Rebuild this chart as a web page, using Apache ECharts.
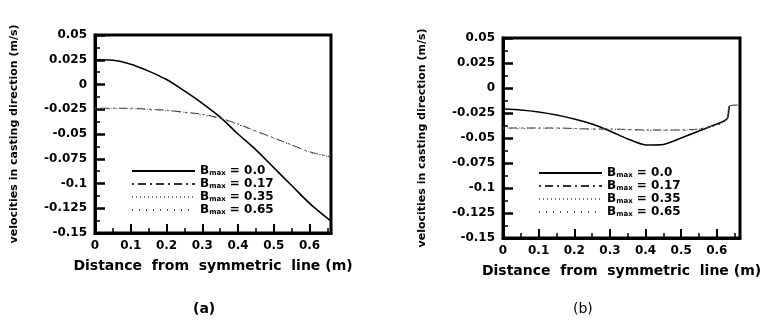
<!DOCTYPE html>
<html>
<head>
<meta charset="utf-8">
<script src="https://cdn.jsdelivr.net/npm/echarts@6/dist/echarts.min.js"></script>
<style>
  html, body { margin: 0; padding: 0; background: #fff; }
  #chart { width: 773px; height: 322px; }
</style>
</head>
<body>
<div id="chart"></div>
<script>
// (a) distance positions and velocities
const xsA = [0, 0.05, 0.1, 0.15, 0.2, 0.25, 0.3, 0.35, 0.4, 0.45, 0.5, 0.55, 0.6, 0.66];
const b00A = [0.025, 0.0245, 0.0205, 0.0135, 0.005, -0.0065, -0.019, -0.033, -0.05, -0.066, -0.084, -0.102, -0.12, -0.138];
const b17A = [-0.024, -0.024, -0.024, -0.025, -0.026, -0.028, -0.03, -0.034, -0.04, -0.047, -0.054, -0.061, -0.068, -0.073];
const b35A = [-0.024, -0.024, -0.0245, -0.025, -0.026, -0.028, -0.0305, -0.034, -0.04, -0.047, -0.054, -0.061, -0.068, -0.073];
const b65A = [-0.0245, -0.0245, -0.0245, -0.0255, -0.0265, -0.0285, -0.031, -0.0345, -0.0405, -0.0475, -0.0545, -0.0615, -0.0685, -0.0735];

// (b)
const xsB = [0, 0.05, 0.1, 0.15, 0.2, 0.25, 0.3, 0.35, 0.4, 0.45, 0.5, 0.55, 0.6, 0.62, 0.63, 0.635, 0.665];
const b00B = [-0.021, -0.022, -0.024, -0.027, -0.031, -0.036, -0.043, -0.051, -0.057, -0.0565, -0.05, -0.043, -0.036, -0.033, -0.03, -0.018, null];
const b17B = [-0.04, -0.04, -0.04, -0.04, -0.0405, -0.041, -0.041, -0.0415, -0.042, -0.042, -0.042, -0.041, -0.037, -0.034, -0.03, -0.018, -0.017];
const b35B = [-0.04, -0.04, -0.04, -0.04, -0.0405, -0.041, -0.041, -0.0415, -0.042, -0.042, -0.042, -0.041, -0.037, -0.034, -0.03, -0.018, -0.017];
const b65B = [-0.0405, -0.0405, -0.0405, -0.0405, -0.041, -0.0415, -0.0415, -0.042, -0.0425, -0.0425, -0.0425, -0.0415, -0.0375, -0.0345, -0.0305, -0.0185, -0.017];

const legendText = { a00: "0.0", a17: "0.17", a35: "0.35", a65: "0.65", b00: "0.0", b17: "0.17", b35: "0.35", b65: "0.65" };

const FONT = "DejaVu Sans";
const zip = (xs, ys) => xs.map((x, i) => [x, ys[i]]);

function xAxis(gridIndex) {
  return {
    gridIndex,
    type: "value",
    min: 0,
    max: gridIndex === 0 ? 0.66 : 0.665,
    interval: 0.1,
    name: "Distance  from  symmetric  line (m)",
    nameLocation: "middle",
    nameGap: 26,
    nameTextStyle: { color: "#000", fontFamily: FONT, fontWeight: "bold", fontSize: 14 },
    axisLine: { show: true, onZero: false, lineStyle: { color: "#000", width: 3 } },
    axisTick: { inside: true, length: 9, lineStyle: { color: "#000", width: 2 } },
    minorTick: { show: true, splitNumber: 2, length: 5, lineStyle: { color: "#000", width: 1.5 } },
    axisLabel: { showMaxLabel: false, margin: 7, color: "#000", fontFamily: FONT, fontWeight: "bold", fontSize: 12 },
    splitLine: { show: false },
  };
}

function yAxis(gridIndex) {
  return {
    gridIndex,
    type: "value",
    min: -0.15,
    max: 0.05,
    interval: 0.025,
    name: "velocities in casting direction (m/s)",
    nameLocation: "middle",
    nameGap: 75,
    nameTextStyle: { color: "#000", fontFamily: FONT, fontWeight: "bold", fontSize: 11 },
    axisLine: { show: true, onZero: false, lineStyle: { color: "#000", width: 3 } },
    axisTick: { inside: true, length: 10, lineStyle: { color: "#000", width: 2.5 } },
    minorTick: { show: true, splitNumber: 2, length: 5, lineStyle: { color: "#000", width: 1.5 } },
    axisLabel: { margin: 8, color: "#000", fontFamily: FONT, fontWeight: "bold", fontSize: 12 },
    splitLine: { show: false },
  };
}

function line(name, idx, xs, ys, style) {
  return {
    name,
    type: "line",
    xAxisIndex: idx,
    yAxisIndex: idx,
    data: zip(xs, ys),
    showSymbol: false,
    symbol: "none",
    smooth: idx === 0 ? 0.3 : 0.2,
    color: style.color,
    itemStyle: { color: style.color },
    lineStyle: style,
    z: 3,
  };
}

const solid = { color: "#000", width: 1.6, type: "solid" };
const dashDot = { color: "#333", width: 1, type: [2, 4, 8, 4] };
const dotted = { color: "#777", width: 1, type: [1, 3] };
const sparse = { color: "#555", width: 1, type: [1, 6] };

function legend(left, top, names) {
  return {
    data: names,
    orient: "vertical",
    left,
    top,
    itemWidth: 63,
    itemHeight: 12,
    itemGap: 1,
    selectedMode: false,
    itemStyle: { opacity: 0 },
    formatter: (name) => `{b|B}{s|max}{v| = ${legendText[name]}}`,
    textStyle: {
      color: "#000",
      rich: {
        b: { fontFamily: FONT, fontWeight: "bold", fontSize: 12, color: "#000" },
        s: { fontFamily: FONT, fontWeight: "bold", fontSize: 7, color: "#000", verticalAlign: "bottom", padding: [5, 0, 0, 0] },
        v: { fontFamily: FONT, fontWeight: "bold", fontSize: 12, color: "#000" },
      },
    },
  };
}

const chart = echarts.init(document.getElementById("chart"), null, { renderer: "canvas" });
chart.setOption({
  backgroundColor: "#fff",
  animation: false,
  grid: [
    { left: 95, top: 35, width: 236, height: 198, show: true, borderColor: "#000", borderWidth: 3 },
    { left: 503, top: 38, width: 237, height: 200, show: true, borderColor: "#000", borderWidth: 3 },
  ],
  xAxis: [xAxis(0), xAxis(1)],
  yAxis: [yAxis(0), yAxis(1)],
  legend: [
    legend(126, 160, ["a00", "a17", "a35", "a65"]),
    legend(533, 162, ["b00", "b17", "b35", "b65"]),
  ],
  series: [
    line("a00", 0, xsA, b00A, solid),
    line("a17", 0, xsA, b17A, dashDot),
    line("a35", 0, xsA, b35A, dotted),
    line("a65", 0, xsA, b65A, sparse),
    line("b00", 1, xsB, b00B, solid),
    line("b17", 1, xsB, b17B, dashDot),
    line("b35", 1, xsB, b35B, dotted),
    line("b65", 1, xsB, b65B, sparse),
  ],
  graphic: [
    { type: "text", left: 193, top: 302, style: { text: "(a)", fontFamily: FONT, fontWeight: "bold", fontSize: 14, fill: "#000" } },
    { type: "text", left: 573, top: 302, style: { text: "(b)", fontFamily: FONT, fontSize: 14, fill: "#000" } },
  ],
});
</script>
</body>
</html>
